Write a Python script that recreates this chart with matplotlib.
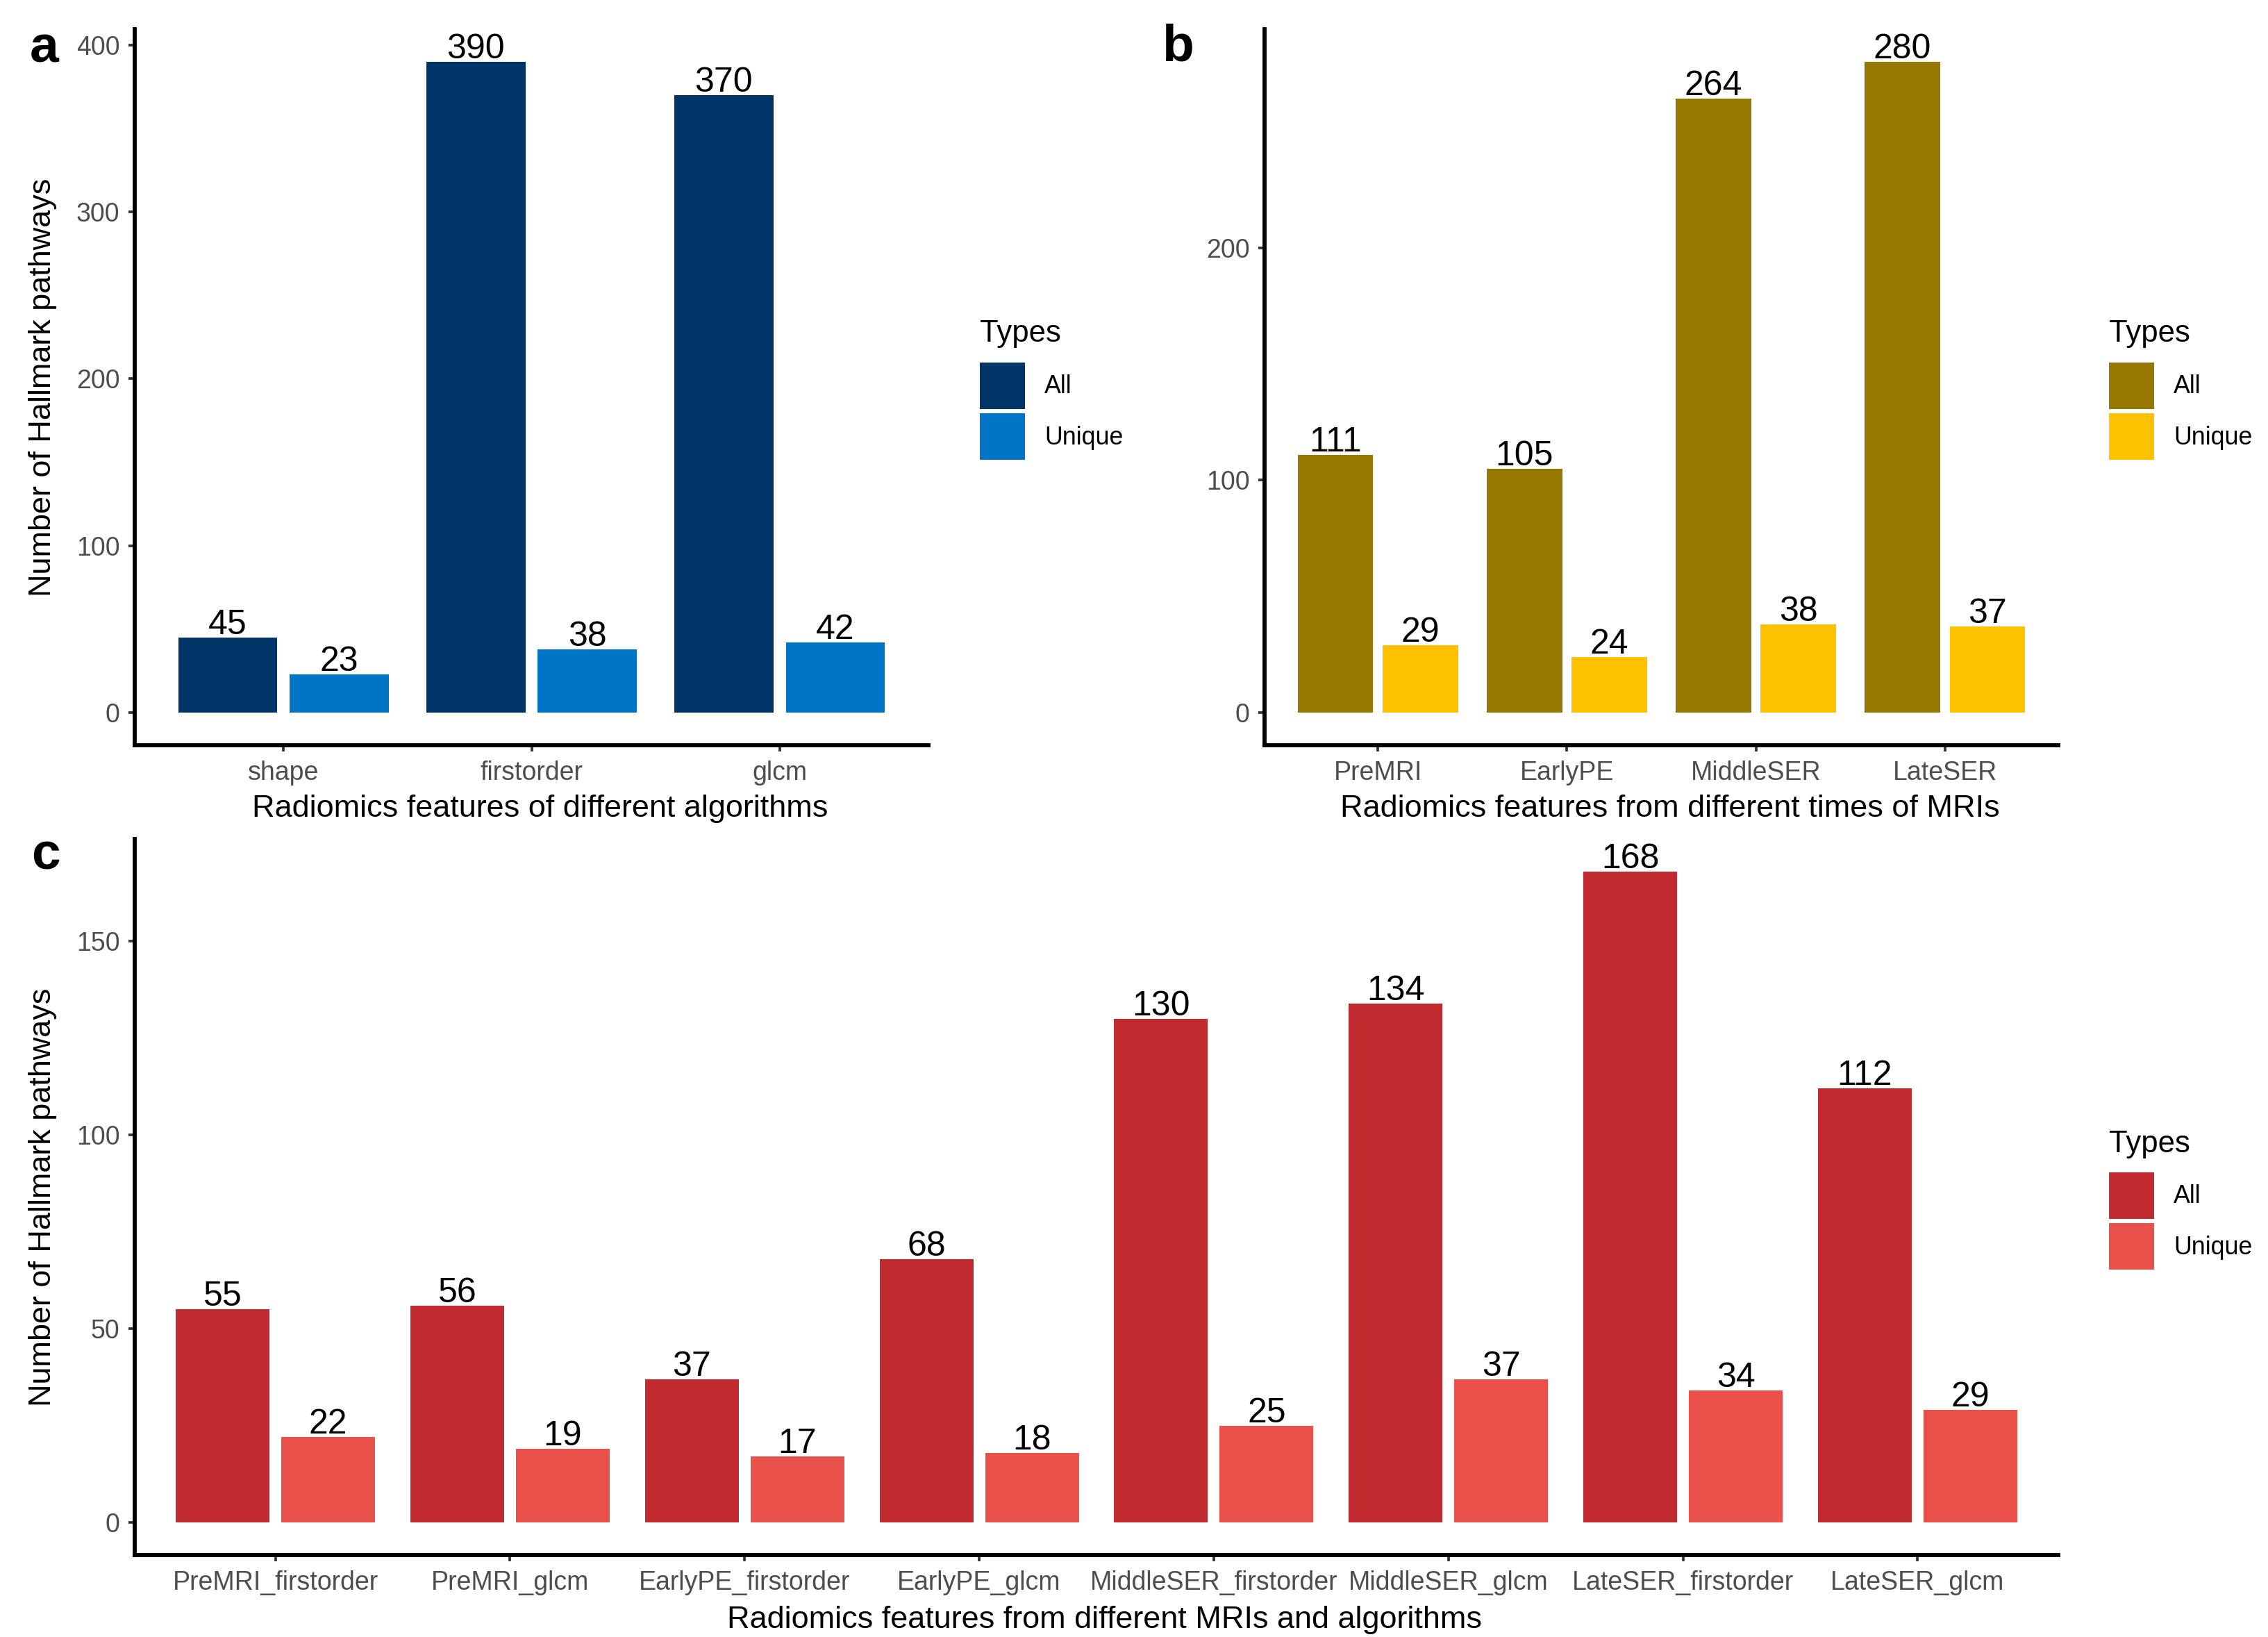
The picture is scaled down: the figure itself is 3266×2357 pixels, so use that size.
import matplotlib
matplotlib.use('Agg')
import matplotlib.pyplot as plt
from matplotlib.patches import Patch
import numpy as np

plt.rcParams['font.family'] = ['Liberation Sans', 'DejaVu Sans']

# panel a
algorithms = ['shape', 'firstorder', 'glcm']
algorithms_all = [45, 390, 370]
algorithms_unique = [23, 38, 42]

# panel b
times = ['PreMRI', 'EarlyPE', 'MiddleSER', 'LateSER']
times_all = [111, 105, 264, 280]
times_unique = [29, 24, 38, 37]

# panel c
combos = ['PreMRI_firstorder', 'PreMRI_glcm', 'EarlyPE_firstorder', 'EarlyPE_glcm',
          'MiddleSER_firstorder', 'MiddleSER_glcm', 'LateSER_firstorder', 'LateSER_glcm']
combos_all = [55, 56, 37, 68, 130, 134, 168, 112]
combos_unique = [22, 19, 17, 18, 25, 37, 34, 29]

type_names = ['All', 'Unique']

W, H = 3266, 2357
DPI = 300


def px_box(left, top, right, bottom):
    # pixel box -> figure fractions
    return [left / W, 1 - bottom / H, (right - left) / W, (bottom - top) / H]


def draw_panel(ax, cats, all_vals, uniq_vals, colors, yticks, ylabel=None, xlabel='',
               xlabel_y=-0.069, ylabel_x=-0.1155, xlabel_x=0.5):
    x = np.arange(1, len(cats) + 1)
    width = 0.4
    bars_all = ax.bar(x - 0.225, all_vals, width, color=colors[0], linewidth=0)
    bars_uniq = ax.bar(x + 0.225, uniq_vals, width, color=colors[1], linewidth=0)
    for bars, vals in [(bars_all, all_vals), (bars_uniq, uniq_vals)]:
        for b, v in zip(bars, vals):
            ax.annotate(str(v), (b.get_x() + b.get_width() / 2, v), xytext=(0, 1.2),
                        textcoords='offset points', ha='center', va='baseline',
                        fontsize=12, color='black')
    top = max(max(all_vals), max(uniq_vals))
    ax.set_ylim(-0.05 * top, 1.05 * top)
    ax.set_xlim(0.4, len(cats) + 0.6)
    ax.set_xticks(x)
    ax.set_xticklabels(cats)
    ax.set_yticks(yticks)
    for s in ['top', 'right']:
        ax.spines[s].set_visible(False)
    for s in ['left', 'bottom']:
        ax.spines[s].set_linewidth(1.4)
        ax.spines[s].set_color('black')
    ax.tick_params(axis='both', length=2.2, width=0.9, color='#333333', pad=3,
                   labelsize=9, labelcolor='#4D4D4D')
    ax.set_xlabel(xlabel, fontsize=10.8, color='black')
    ax.xaxis.set_label_coords(xlabel_x, xlabel_y)
    if ylabel:
        ax.text(ylabel_x, 0.5, ylabel, transform=ax.transAxes, rotation=90,
                ha='center', va='center', fontsize=10.8, color='black')
    return bars_all, bars_uniq


def add_legend(fig, colors, left_px, title_base_px, keys_top_px):
    fig.text(left_px / W, 1 - title_base_px / H, 'Types', fontsize=10.5,
             ha='left', va='baseline')
    handles = [Patch(facecolor=colors[0], edgecolor='none'),
               Patch(facecolor=colors[1], edgecolor='none')]
    leg = fig.legend(handles, type_names, loc='upper left',
                     bbox_to_anchor=(left_px / W, 1 - keys_top_px / H),
                     bbox_transform=fig.transFigure, frameon=False, fontsize=8.6,
                     handlelength=1.8, handleheight=2.5,
                     labelspacing=0.18, handletextpad=0.8, borderpad=0,
                     borderaxespad=0)
    return leg


fig = plt.figure(figsize=(W / DPI, H / DPI), dpi=DPI)

ax_a = fig.add_axes(px_box(194, 42, 1337, 1073))
draw_panel(ax_a, algorithms, algorithms_all, algorithms_unique, ['#023567', '#0075C7'],
           [0, 100, 200, 300, 400], ylabel='Number of Hallmark pathways',
           xlabel='Radiomics features of different algorithms', xlabel_x=0.5 + 12 / 1143)
add_legend(fig, ['#023567', '#0075C7'], 1411, 492, 522)

ax_b = fig.add_axes(px_box(1821, 42, 2964, 1073))
draw_panel(ax_b, times, times_all, times_unique, ['#987700', '#FDC100'],
           [0, 100, 200], xlabel='Radiomics features from different times of MRIs',
           xlabel_x=0.5 + 12 / 1143)
add_legend(fig, ['#987700', '#FDC100'], 3037, 492, 522)

ax_c = fig.add_axes(px_box(194, 1208, 2964, 2239))
draw_panel(ax_c, combos, combos_all, combos_unique, ['#C12A2E', '#EA514A'],
           [0, 50, 100, 150], ylabel='Number of Hallmark pathways',
           xlabel='Radiomics features from different MRIs and algorithms',
           xlabel_y=-0.071, ylabel_x=(62 - 194) / 2770, xlabel_x=0.5 + 12 / 2770)
add_legend(fig, ['#C12A2E', '#EA514A'], 3037, 1659, 1688)

fig.text(43 / W, 1 - 90 / H, 'a', fontsize=18, fontweight='bold', va='baseline')
fig.text(1673 / W, 1 - 88 / H, 'b', fontsize=18, fontweight='bold', va='baseline')
fig.text(45 / W, 1 - 1252 / H, 'c', fontsize=18, fontweight='bold', va='baseline')

fig.savefig('out.png', dpi=DPI)
